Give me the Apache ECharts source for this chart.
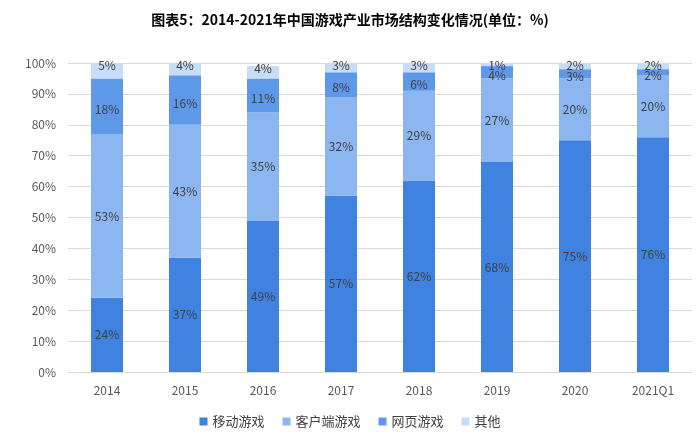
<!DOCTYPE html>
<html><head><meta charset="utf-8">
<script src="https://cdn.jsdelivr.net/npm/echarts@6/dist/echarts.min.js"></script>
<style>body{margin:0}#main{width:700px;height:437px}</style>
</head><body><div id="main"></div>
<script>
// chart data
const years = ['2014', '2015', '2016', '2017', '2018', '2019', '2020', '2021Q1'];
const mobile = [24, 37, 49, 57, 62, 68, 75, 76];
const client = [53, 43, 35, 32, 29, 27, 20, 20];
const web = [18, 16, 11, 8, 6, 4, 3, 2];
const other = [5, 4, 4, 3, 3, 1, 2, 2];
const names = ['移动游戏', '客户端游戏', '网页游戏', '其他'];
const colors = ['#3f82e0', '#8cb6f0', '#5e98e8', '#c6dcf7'];

function mk(i, data) {
    return {
        name: names[i], type: 'bar', stack: 'all', data: data, barWidth: 32,
        itemStyle: { color: colors[i] },
        label: {
            show: true, position: i == 3 ? 'top' : 'inside', offset: i == 3 ? [0, 13] : (i == 2 ? [0, 3] : [0, 0]),
            formatter: '{c}%', color: '#404040', fontSize: 12
        }
    };
}

let myChart = echarts.init(document.getElementById('main'));
myChart.setOption({
    textStyle: { fontFamily: 'Noto Sans CJK SC' },
    title: {
        text: '图表5：2014-2021年中国游戏产业市场结构变化情况(单位：%)', left: 'center', top: 8,
        textStyle: { fontSize: 14, fontWeight: 'bold', color: '#000' }
    },
    legend: {
        data: names, bottom: 4, itemWidth: 8, itemHeight: 8, icon: 'rect', itemGap: 18,
        textStyle: { fontSize: 13, color: '#404040' }
    },
    grid: { left: 68, right: 8, top: 63, bottom: 65 },
    xAxis: {
        type: 'category', data: years,
        axisTick: { show: false }, axisLine: { lineStyle: { color: '#d9d9d9' } },
        axisLabel: { color: '#595959', fontSize: 12, margin: 12 }
    },
    yAxis: {
        type: 'value', min: 0, max: 100, interval: 10,
        axisLabel: { formatter: '{value}%', color: '#595959', fontSize: 12, margin: 12 },
        splitLine: { lineStyle: { color: '#d9d9d9' } }
    },
    series: [mk(0, mobile), mk(1, client), mk(2, web), mk(3, other)]
});
</script></body></html>
